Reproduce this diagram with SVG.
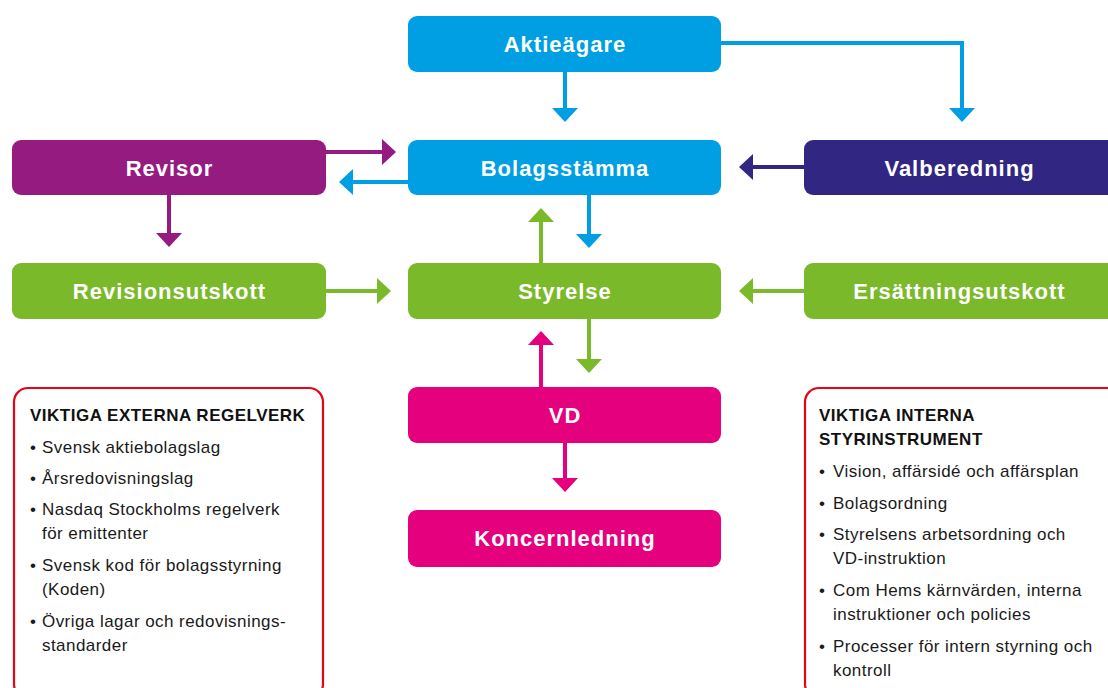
<svg xmlns="http://www.w3.org/2000/svg" width="1108" height="688" viewBox="0 0 1108 688">
<style>
.lbl{font-family:"Liberation Sans",Arial,sans-serif;font-weight:bold;font-size:22px;fill:#fff;text-anchor:middle;letter-spacing:1px}
.hd{font-family:"Liberation Sans",Arial,sans-serif;font-weight:bold;font-size:17px;fill:#111;letter-spacing:0.5px}
.tx{font-family:"Liberation Sans",Arial,sans-serif;font-size:17px;fill:#1a1a1a;letter-spacing:0.45px}
.frame{fill:none;stroke:#E30613;stroke-width:2.2}
.c{fill:none;stroke-width:4}
.blue{fill:#009FE3}.purple{fill:#951B81}.navy{fill:#312783}.green{fill:#7AB929}.mag{fill:#E5007D}
</style>
<defs>
<marker id="hBlue" viewBox="0 0 14 26" refX="0" refY="13" markerWidth="14" markerHeight="26" markerUnits="userSpaceOnUse" orient="auto"><path d="M0,0 L14,13 L0,26 z" fill="#009FE3"/></marker>
<marker id="hPurple" viewBox="0 0 14 26" refX="0" refY="13" markerWidth="14" markerHeight="26" markerUnits="userSpaceOnUse" orient="auto"><path d="M0,0 L14,13 L0,26 z" fill="#951B81"/></marker>
<marker id="hNavy" viewBox="0 0 14 26" refX="0" refY="13" markerWidth="14" markerHeight="26" markerUnits="userSpaceOnUse" orient="auto"><path d="M0,0 L14,13 L0,26 z" fill="#312783"/></marker>
<marker id="hGreen" viewBox="0 0 14 26" refX="0" refY="13" markerWidth="14" markerHeight="26" markerUnits="userSpaceOnUse" orient="auto"><path d="M0,0 L14,13 L0,26 z" fill="#7AB929"/></marker>
<marker id="hMag" viewBox="0 0 14 26" refX="0" refY="13" markerWidth="14" markerHeight="26" markerUnits="userSpaceOnUse" orient="auto"><path d="M0,0 L14,13 L0,26 z" fill="#E5007D"/></marker>
</defs>
<rect width="1108" height="688" fill="#fff"/>
<g id="connectors">
<path class="c" stroke="#009FE3" d="M565,72 V108" marker-end="url(#hBlue)"/>
<path class="c" stroke="#009FE3" d="M721,43 H962 V108" marker-end="url(#hBlue)"/>
<path class="c" stroke="#951B81" d="M326,152 H382" marker-end="url(#hPurple)"/>
<path class="c" stroke="#009FE3" d="M408,182 H353" marker-end="url(#hBlue)"/>
<path class="c" stroke="#312783" d="M804,167 H753" marker-end="url(#hNavy)"/>
<path class="c" stroke="#951B81" d="M169,195 V233" marker-end="url(#hPurple)"/>
<path class="c" stroke="#009FE3" d="M589,195 V234" marker-end="url(#hBlue)"/>
<path class="c" stroke="#7AB929" d="M541,263 V222" marker-end="url(#hGreen)"/>
<path class="c" stroke="#7AB929" d="M326,291 H377" marker-end="url(#hGreen)"/>
<path class="c" stroke="#7AB929" d="M804,291 H753" marker-end="url(#hGreen)"/>
<path class="c" stroke="#7AB929" d="M589,319 V359" marker-end="url(#hGreen)"/>
<path class="c" stroke="#E5007D" d="M541,387 V345" marker-end="url(#hMag)"/>
<path class="c" stroke="#E5007D" d="M565,443 V478" marker-end="url(#hMag)"/>
</g>
<g id="aktieagare"><rect class="blue" x="408" y="16" width="313" height="56" rx="9"/><text class="lbl" x="565" y="52">Aktieägare</text></g>
<g id="bolagsstamma"><rect class="blue" x="408" y="140" width="313" height="55" rx="9"/><text class="lbl" x="565" y="176">Bolagsstämma</text></g>
<g id="revisor"><rect class="purple" x="12" y="140" width="314" height="55" rx="9"/><text class="lbl" x="169.5" y="176">Revisor</text></g>
<g id="valberedning"><rect class="navy" x="804" y="140" width="314" height="55" rx="9"/><text class="lbl" x="959.5" y="176">Valberedning</text></g>
<g id="revisionsutskott"><rect class="green" x="12" y="263" width="314" height="56" rx="9"/><text class="lbl" x="169.5" y="299">Revisionsutskott</text></g>
<g id="styrelse"><rect class="green" x="408" y="263" width="313" height="56" rx="9"/><text class="lbl" x="565" y="299">Styrelse</text></g>
<g id="ersattningsutskott"><rect class="green" x="804" y="263" width="314" height="56" rx="9"/><text class="lbl" x="959.5" y="299">Ersättningsutskott</text></g>
<g id="vd"><rect class="mag" x="408" y="387" width="313" height="56" rx="9"/><text class="lbl" x="565" y="423">VD</text></g>
<g id="koncernledning"><rect class="mag" x="408" y="510" width="313" height="57" rx="9"/><text class="lbl" x="565" y="546">Koncernledning</text></g>
<g id="externa">
<rect class="frame" x="14" y="388" width="309" height="310" rx="14"/>
<text class="hd" x="30" y="421">VIKTIGA EXTERNA REGELVERK</text>
<text class="tx" x="30" y="453">•</text><text class="tx" x="42" y="453">Svensk aktiebolagslag</text>
<text class="tx" x="30" y="484">•</text><text class="tx" x="42" y="484">Årsredovisningslag</text>
<text class="tx" x="30" y="515">•</text><text class="tx" x="42" y="515">Nasdaq Stockholms regelverk</text>
<text class="tx" x="42" y="539">för emittenter</text>
<text class="tx" x="30" y="571">•</text><text class="tx" x="42" y="571">Svensk kod för bolagsstyrning</text>
<text class="tx" x="42" y="595">(Koden)</text>
<text class="tx" x="30" y="627">•</text><text class="tx" x="42" y="627">Övriga lagar och redovisnings-</text>
<text class="tx" x="42" y="651">standarder</text>
</g>
<g id="interna">
<rect class="frame" x="805" y="388" width="320" height="310" rx="14"/>
<text class="hd" x="819" y="421">VIKTIGA INTERNA</text>
<text class="hd" x="819" y="445">STYRINSTRUMENT</text>
<text class="tx" x="819" y="477">•</text><text class="tx" x="833" y="477">Vision, affärsidé och affärsplan</text>
<text class="tx" x="819" y="509">•</text><text class="tx" x="833" y="509">Bolagsordning</text>
<text class="tx" x="819" y="540">•</text><text class="tx" x="833" y="540">Styrelsens arbetsordning och</text>
<text class="tx" x="833" y="564">VD-instruktion</text>
<text class="tx" x="819" y="596">•</text><text class="tx" x="833" y="596">Com Hems kärnvärden, interna</text>
<text class="tx" x="833" y="620">instruktioner och policies</text>
<text class="tx" x="819" y="652">•</text><text class="tx" x="833" y="652">Processer för intern styrning och</text>
<text class="tx" x="833" y="676">kontroll</text>
</g>
</svg>
